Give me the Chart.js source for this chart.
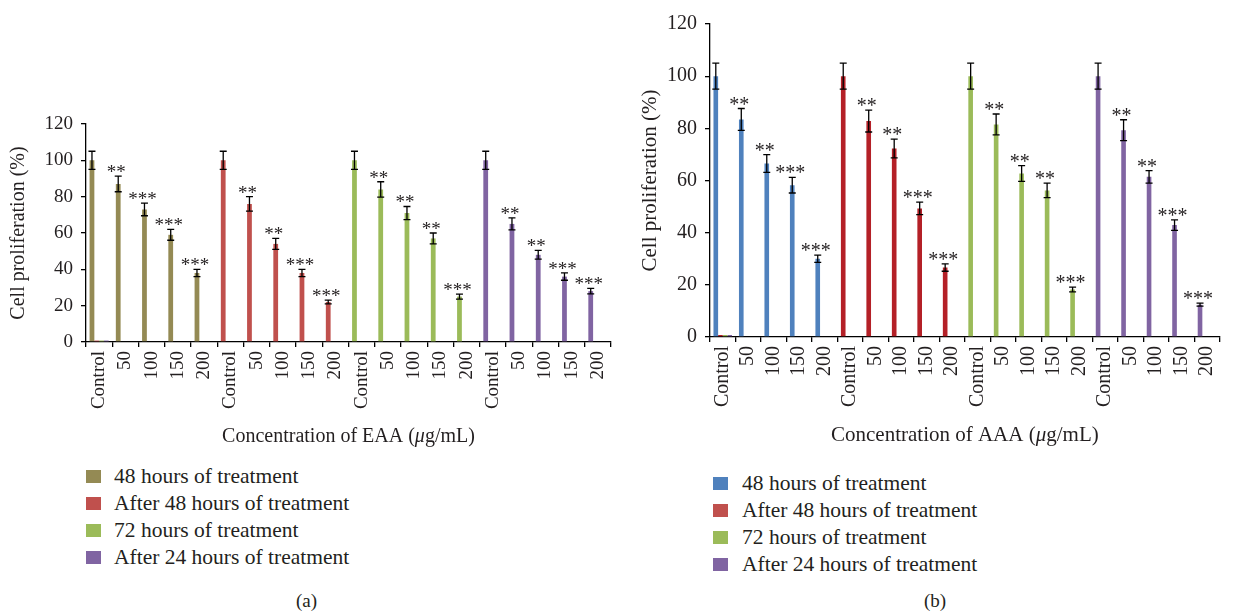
<!DOCTYPE html>
<html>
<head>
<meta charset="utf-8">
<script src="https://cdn.jsdelivr.net/npm/chart.js@4.4.0/dist/chart.umd.min.js"></script>
<style>
  html, body { margin: 0; padding: 0; background: #fff; }
  body { width: 1235px; height: 613px; position: relative; overflow: hidden;
         font-family: 'Liberation Serif', 'DejaVu Serif', serif; color: #231f20; }
  .box { position: absolute; }
  .legend { position: absolute; font-size: 21.5px; line-height: 27px; }
  .legend div { position: relative; white-space: nowrap; }
  .legend span.sw { position: absolute; width: 15px; height: 13px; top: 7px; }
  .panel { position: absolute; font-size: 19px; }
</style>
</head>
<body>
<div class="box" style="left:0;top:100px;width:625px;height:360px;"><canvas id="chartA"></canvas></div>
<div class="box" style="left:630px;top:0;width:605px;height:460px;"><canvas id="chartB"></canvas></div>
<div class="legend" id="legendA" style="left:86px;top:463px;"></div>
<div class="legend" id="legendB" style="left:713px;top:470px;"></div>
<div class="panel" style="left:296px;top:590px;">(a)</div>
<div class="panel" style="left:924px;top:590px;">(b)</div>

<script>
(function () {
  'use strict';

  // Data
  var categories = ['Control', '50', '100', '150', '200',
                    'Control', '50', '100', '150', '200',
                    'Control', '50', '100', '150', '200',
                    'Control', '50', '100', '150', '200'];
  var seriesNames = ['48 hours of treatment', 'After 48 hours of treatment',
                     '72 hours of treatment', 'After 24 hours of treatment'];

  var eaaValues = [100, 87, 73, 59, 38, 100, 76, 54, 38, 22, 100, 84, 71, 57, 25, 100, 65, 48, 36, 28];
  var eaaErrors = [5, 4.3, 3.5, 3, 2, 5, 4, 3, 2, 1, 5, 4.2, 3.6, 3, 1.4, 5, 3.3, 2.4, 2, 1.5];
  var eaaMarks = ['', '**', '***', '***', '***', '', '**', '**', '***', '***',
                  '', '**', '**', '**', '***', '', '**', '**', '***', '***'];

  var aaaValues = [100, 83.4, 66.5, 58.2, 30, 100, 82.8, 72.3, 49.3, 26.6, 100, 81.5, 62.7, 56.2, 18.2, 100, 79.3, 61.4, 42.9, 12.4];
  var aaaErrors = [5, 4.2, 3.4, 3, 1.4, 5, 4.2, 3.6, 2.4, 1.4, 5, 4, 3, 2.8, 0.9, 5, 4, 2.4, 2, 0.6];
  var aaaMarks = ['', '**', '**', '***', '***', '', '**', '**', '***', '***',
                  '', '**', '**', '**', '***', '', '**', '**', '***', '***'];

  // tiny legend-only series sitting at the first Control
  var stubValues = [0.8];

  var colorsA = ['#948a54', '#c0504d', '#9bbb59', '#8064a2'];
  var colorsB = ['#4f81bd', '#b42027', '#9bbb59', '#8064a2'];
  var legendColorsB = ['#4f81bd', '#c0504d', '#9bbb59', '#8064a2'];

  var FONT = "'Liberation Serif', 'DejaVu Serif', serif";
  var INK = '#231f20';

  // error bars + significance stars
  var errorBarPlugin = {
    id: 'errorBars',
    afterDatasetsDraw: function (chart, args, opts) {
      var ctx = chart.ctx;
      var y = chart.scales.y;
      var meta = chart.getDatasetMeta(0);
      var vals = chart.data.datasets[0].data;
      ctx.save();
      ctx.strokeStyle = '#000';
      ctx.lineWidth = 1.3;
      ctx.fillStyle = INK;
      ctx.font = opts.markSize + 'px ' + FONT;
      ctx.textAlign = 'center';
      ctx.textBaseline = 'alphabetic';
      meta.data.forEach(function (bar, i) {
        var v = vals[i], e = opts.errors[i];
        var top = y.getPixelForValue(v + e);
        var bot = y.getPixelForValue(v - e);
        ctx.beginPath();
        ctx.moveTo(bar.x, top); ctx.lineTo(bar.x, bot);
        ctx.moveTo(bar.x - 3.5, top); ctx.lineTo(bar.x + 3.5, top);
        ctx.moveTo(bar.x - 3.5, bot); ctx.lineTo(bar.x + 3.5, bot);
        ctx.stroke();
        if (opts.marks[i]) ctx.fillText(opts.marks[i], bar.x - 2, top + 2);
      });
      ctx.restore();
    }
  };

  // x title with italic mu
  var xTitlePlugin = {
    id: 'xTitle',
    afterDraw: function (chart, args, opts) {
      var ctx = chart.ctx;
      var area = chart.chartArea;
      var parts = [[opts.before, ''], ['\u03bc', 'italic '], ['g/mL)', '']];
      ctx.save();
      ctx.fillStyle = INK;
      ctx.textBaseline = 'middle';
      ctx.textAlign = 'left';
      var total = 0;
      parts.forEach(function (p) {
        ctx.font = p[1] + opts.size + 'px ' + FONT;
        total += ctx.measureText(p[0]).width;
      });
      var x = (area.left + area.right) / 2 - total / 2;
      var yy = area.bottom + opts.offset;
      parts.forEach(function (p) {
        ctx.font = p[1] + opts.size + 'px ' + FONT;
        ctx.fillText(p[0], x, yy);
        x += ctx.measureText(p[0]).width;
      });
      ctx.restore();
    }
  };

  function makeChart(id, values, errors, marks, colors, cfg) {
    var barColors = values.map(function (v, i) { return colors[Math.floor(i / 5)]; });
    var datasets = [{
      label: seriesNames[0],
      data: values,
      backgroundColor: barColors
    }];
    for (var s = 1; s < 4; s++) {
      datasets.push({ label: seriesNames[s], data: stubValues, backgroundColor: colors[s] });
    }
    return new Chart(document.getElementById(id), {
      type: 'bar',
      data: { labels: categories, datasets: datasets },
      options: {
        responsive: true,
        maintainAspectRatio: false,
        animation: false,
        datasets: { bar: { categoryPercentage: 0.727, barPercentage: 1.0 } },
        layout: { padding: cfg.padding },
        plugins: {
          legend: { display: false },
          tooltip: { enabled: false },
          errorBars: { errors: errors, marks: marks, markSize: cfg.markSize },
          xTitle: { before: cfg.xTitle, size: cfg.titleSize, offset: cfg.titleOffset }
        },
        scales: {
          x: {
            afterFit: function (scale) { scale.height = cfg.xHeight; },
            grid: { display: true, drawOnChartArea: false, offset: true, tickLength: 5, color: '#000', lineWidth: 1.3 },
            border: { display: true, color: '#000', width: 1.3 },
            ticks: {
              autoSkip: false, minRotation: 90, maxRotation: 90, padding: 4,
              color: INK, font: { family: FONT, size: cfg.tickSize }
            }
          },
          y: {
            min: 0, max: 120,
            afterFit: function (scale) { scale.width = cfg.yWidth; },
            grid: { display: true, drawOnChartArea: false, tickLength: 5, color: '#000', lineWidth: 1.3 },
            border: { display: true, color: '#000', width: 1.3 },
            ticks: { stepSize: 20, padding: 8, color: INK, font: { family: FONT, size: cfg.tickSize } },
            title: {
              display: true, text: 'Cell proliferation (%)', color: INK,
              font: { family: FONT, size: cfg.titleSize }, padding: { top: 0, bottom: 6 }
            }
          }
        }
      },
      plugins: [errorBarPlugin, xTitlePlugin]
    });
  }

  makeChart('chartA', eaaValues, eaaErrors, eaaMarks, colorsA, {
    padding: { left: 7, top: 24, right: 13, bottom: 8 },
    yWidth: 79, xHeight: 110, tickSize: 19, titleSize: 20, markSize: 19,
    xTitle: 'Concentration of EAA (', titleOffset: 95
  });
  makeChart('chartB', aaaValues, aaaErrors, aaaMarks, colorsB, {
    padding: { left: 8, top: 24, right: 1, bottom: 8 },
    yWidth: 72, xHeight: 115, tickSize: 20, titleSize: 21, markSize: 20,
    xTitle: 'Concentration of AAA (', titleOffset: 98
  });

  // legends under each panel
  function buildLegend(id, colors) {
    var el = document.getElementById(id);
    seriesNames.forEach(function (name, i) {
      var row = document.createElement('div');
      row.style.paddingLeft = (id === 'legendA' ? 28 : 29) + 'px';
      var sw = document.createElement('span');
      sw.className = 'sw';
      sw.style.left = '0';
      sw.style.background = colors[i];
      row.appendChild(sw);
      row.appendChild(document.createTextNode(name));
      el.appendChild(row);
    });
  }
  buildLegend('legendA', colorsA);
  buildLegend('legendB', legendColorsB);
})();
</script>
</body>
</html>
